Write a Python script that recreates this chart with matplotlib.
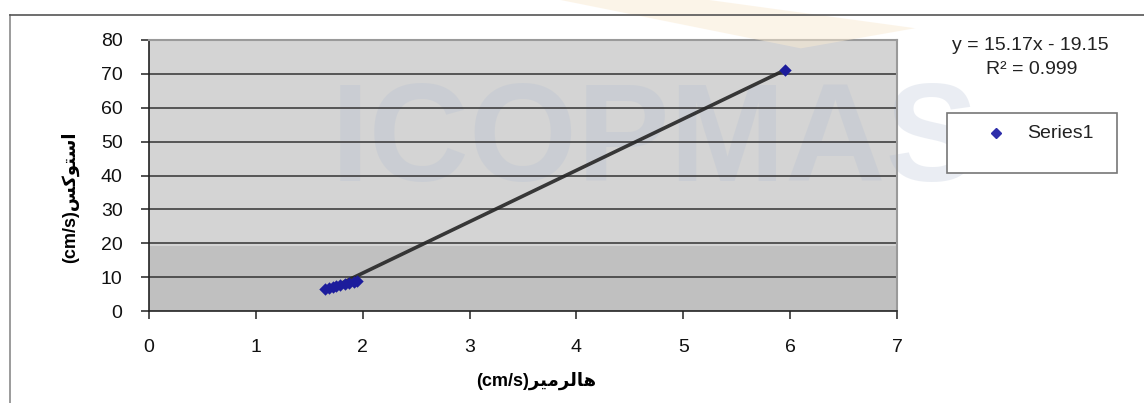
import numpy as np
import matplotlib
matplotlib.use("Agg")
import matplotlib.pyplot as plt
from matplotlib.patches import Rectangle, Polygon
from matplotlib.lines import Line2D

# Hallermeier vs Stokes settling velocity (cm/s)
x_hallermeier = [1.65, 1.68, 1.72, 1.75, 1.79, 1.83, 1.87, 1.92, 1.95, 5.95]
y_stokes = [6.5, 6.9, 7.2, 7.4, 7.8, 8.0, 8.3, 8.6, 9.0, 71.2]

slope, intercept = 15.17, -19.15
r_squared = 0.999

x_ticks = [0, 1, 2, 3, 4, 5, 6, 7]
y_ticks = [0, 10, 20, 30, 40, 50, 60, 70, 80]

# Arabic labels written in visual order with presentation forms
x_label = "(cm/s)" + "\uFEAE\uFEF4\uFEE3\uFEAE\uFEDF\uFE8E\uFEEB"
y_label = "(cm/s)" + "\uFEB2\uFEDB\uFEEE\uFE98\uFEB3\uFE8D"

fonts = ["Liberation Sans", "DejaVu Sans"]
plt.rcParams["font.family"] = fonts

fig = plt.figure(figsize=(11.44, 4.03), dpi=100)
fig.patch.set_facecolor("white")

# faint watermark shape at the top
fig.patches.append(Polygon([[0.49, 1.0], [0.62, 1.0], [0.80, 0.93], [0.70, 0.88]],
                           closed=True, transform=fig.transFigure,
                           facecolor="#f9ead2", edgecolor="none", zorder=0, alpha=0.5))

# chart border
fig.add_artist(Line2D([10 / 1144, 10 / 1144], [0, 1 - 15 / 403], transform=fig.transFigure,
                      color="#8a8a8a", lw=1.2))
fig.add_artist(Line2D([10 / 1144, 1.0], [1 - 15 / 403, 1 - 15 / 403], transform=fig.transFigure,
                      color="#555555", lw=1.2))

ax = fig.add_axes([149 / 1144, 1 - 311 / 403, (897 - 149) / 1144, (311 - 40) / 403])
ax.set_xlim(0, 7)
ax.set_ylim(0, 80)
ax.set_facecolor("#d4d4d4")
ax.add_patch(Rectangle((0, 0), 7, 19.3, facecolor="#c0c0c0", edgecolor="none", zorder=0))

ax.text(4.735, 49.0, "ICOPMAS", ha="center", va="center", fontsize=100, fontweight="bold",
        color="#aebbd2", alpha=0.25, zorder=0.5, family="Liberation Sans", clip_on=False)

for y in y_ticks[1:-1]:
    ax.axhline(y, color="#333333", lw=1.1, zorder=1)

for side in ["top", "right"]:
    ax.spines[side].set_color("#9a9a9a")
    ax.spines[side].set_linewidth(1.5)
for side in ["left", "bottom"]:
    ax.spines[side].set_color("#222222")
    ax.spines[side].set_linewidth(1.2)

ax.set_xticks(x_ticks)
ax.set_yticks(y_ticks)
ax.tick_params(direction="out", length=6, width=1.1, color="#222222", labelsize=14,
               labelcolor="#111111")
ax.tick_params(axis="y", pad=13)
ax.tick_params(axis="x", pad=14)

ax.set_xlabel(x_label, fontsize=13, fontweight="bold")
ax.set_ylabel(y_label, fontsize=13, fontweight="bold")
ax.xaxis.set_label_coords(0.517, -0.225)
ax.yaxis.set_label_coords(-0.094, 0.42)

# linear trendline across the data range
xs = np.array([min(x_hallermeier), max(x_hallermeier)])
ax.plot(xs, slope * xs + intercept, color="#262626", lw=2.6, zorder=3, alpha=0.9)
ax.scatter(x_hallermeier, y_stokes, marker="D", s=40, color="#1c1c9c", zorder=4, lw=0)

fig.text(1030 / 1144, 1 - 46 / 403, f"y = {slope:.2f}x - {abs(intercept):.2f}",
         ha="center", va="center", fontsize=14, color="#222222")
fig.text(1032 / 1144, 1 - 69 / 403, f"R\u00b2 = {r_squared}",
         ha="center", va="center", fontsize=14, color="#222222")

# legend box
fig.add_artist(Rectangle((947 / 1144, 1 - 173 / 403), 170 / 1144, 60 / 403,
                         transform=fig.transFigure, facecolor="white",
                         edgecolor="#777777", lw=1.2, zorder=5))
fig.add_artist(Line2D([996 / 1144], [1 - 133 / 403], transform=fig.transFigure,
                      marker="D", markersize=5.5, color="#2e2eaa", lw=0, zorder=6))
fig.text(1027 / 1144, 1 - 133 / 403, "Series1", ha="left", va="center",
         fontsize=14, color="#222222", zorder=6)

fig.savefig("out.png", dpi=100, facecolor="white")
